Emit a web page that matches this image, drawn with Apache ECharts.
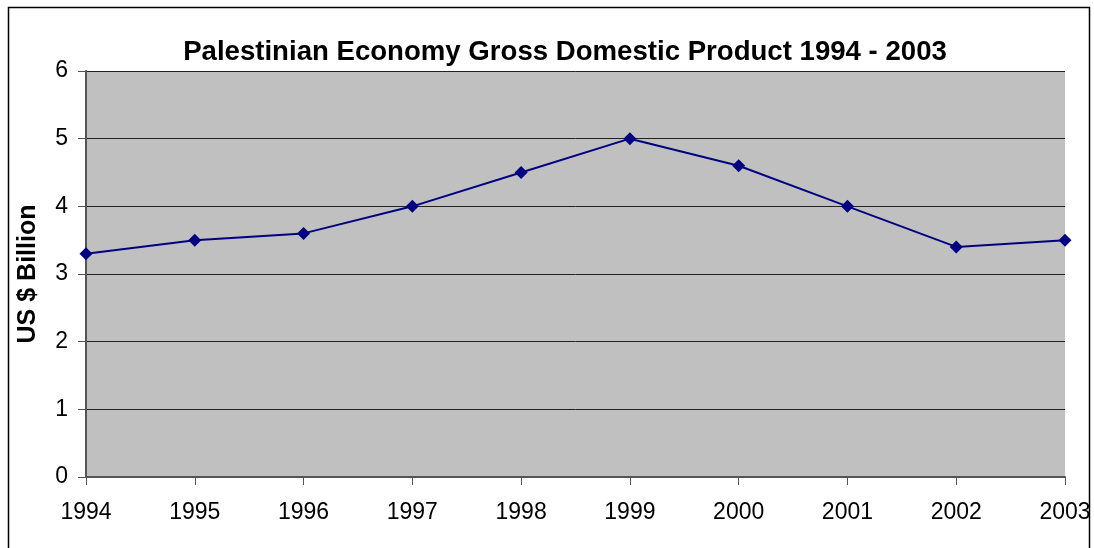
<!DOCTYPE html>
<html>
<head>
<meta charset="utf-8">
<script src="https://cdn.jsdelivr.net/npm/echarts@6/dist/echarts.min.js"></script>
<style>html,body{margin:0;padding:0;background:#fff;}#c{width:1094px;height:548px;}</style>
</head>
<body>
<div id="c"></div>
<script>
const years = ['1994','1995','1996','1997','1998','1999','2000','2001','2002','2003'];
const gdp = [3.3, 3.5, 3.6, 4.0, 4.5, 5.0, 4.6, 4.0, 3.4, 3.5];
const chart = echarts.init(document.getElementById('c'), null, {renderer: 'canvas'});
const F = '"Liberation Sans", Arial, sans-serif';
chart.setOption({
  animation: false,
  backgroundColor: '#ffffff',
  title: {
    text: 'Palestinian Economy Gross Domestic Product 1994 - 2003',
    left: 560, top: 33, textAlign: 'center',
    textStyle: {fontFamily: F, fontSize: 27.6, fontWeight: 'bold', color: '#000'}
  },
  graphic: [{
    type: 'polyline', shape: {points: [[8.5, 560], [8.5, 7.5], [1089.5, 7.5], [1089.5, 560]]},
    style: {fill: 'none', stroke: '#000', lineWidth: 1.5}, silent: true, z: 100
  }],
  grid: {left: 86, right: 29, top: 71, bottom: 71, show: true, backgroundColor: '#c0c0c0', borderWidth: 0,
         containLabel: false, outerBoundsMode: 'none'},
  xAxis: {
    type: 'category', data: years, boundaryGap: false,
    axisLine: {show: true, lineStyle: {color: '#555', width: 2}},
    axisTick: {show: true, alignWithLabel: true, length: 8, lineStyle: {color: '#555', width: 1}},
    axisLabel: {fontFamily: F, fontSize: 23, color: '#000', margin: 24},
    splitLine: {show: false}
  },
  yAxis: {
    type: 'value', min: 0, max: 6, interval: 1,
    name: 'US $ Billion', nameLocation: 'middle', nameGap: 45, nameRotate: 90, nameMoveOverlap: false,
    nameTextStyle: {fontFamily: F, fontSize: 25, fontWeight: 'bold', color: '#000'},
    axisLine: {show: true, lineStyle: {color: '#555', width: 2}},
    axisTick: {show: true, length: 8, lineStyle: {color: '#555', width: 1}},
    axisLabel: {fontFamily: F, fontSize: 23, color: '#000', margin: 18},
    splitLine: {show: true, lineStyle: {color: '#222', width: 1}}
  },
  series: [{
    type: 'line', data: gdp,
    symbol: 'diamond', symbolSize: 13,
    lineStyle: {color: '#000080', width: 2},
    itemStyle: {color: '#000080'}
  }]
});
</script>
</body>
</html>
